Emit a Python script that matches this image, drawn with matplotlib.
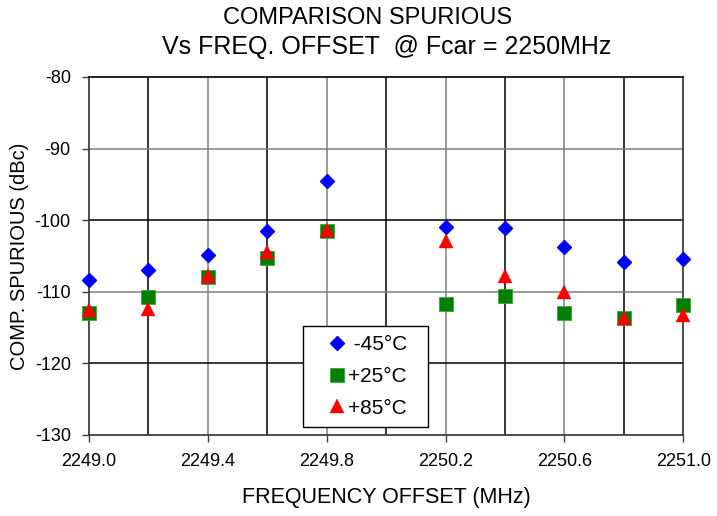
import matplotlib
matplotlib.use("Agg")
import matplotlib.pyplot as plt
import numpy as np

plt.rcParams['font.family'] = ['Liberation Sans', 'DejaVu Sans']
plt.rcParams['axes.unicode_minus'] = False

freq = [2249.0, 2249.2, 2249.4, 2249.6, 2249.8, 2250.2, 2250.4, 2250.6, 2250.8, 2251.0]
spur_m45 = [-108.4, -106.9, -104.9, -101.5, -94.6, -100.9, -101.1, -103.7, -105.8, -105.4]
spur_p25 = [-112.9, -110.8, -108.0, -105.3, -101.5, -111.7, -110.6, -112.9, -113.7, -111.8]
spur_p85 = [-112.6, -112.4, -107.8, -104.4, -101.4, -102.9, -107.8, -110.0, -113.6, -113.2]

x_labels = ['2249.0', '2249.4', '2249.8', '2250.2', '2250.6', '2251.0']

fig = plt.figure(figsize=(7.17, 5.16), dpi=100)
ax = fig.add_axes([0.124, 0.157, 0.829, 0.694])

# grid lines, drawn by hand so they can alternate shade like the original
for i, xv in enumerate(np.arange(2249.2, 2250.9, 0.2)):
    c = '#808080' if i % 2 == 1 else 'black'
    ax.axvline(xv, color=c, lw=1.1, zorder=1)
for i, yv in enumerate([-120, -110, -100, -90]):
    c = 'black' if i % 2 == 0 else '#808080'
    ax.axhline(yv, color=c, lw=1.1, zorder=1)

ax.plot(freq, spur_m45, 'D', color='blue', ms=7, mec='blue', label=' -45°C  ', zorder=3, clip_on=False)
ax.plot(freq, spur_p25, 's', color='green', ms=10, mec='#40a040', mew=0.6, label='+25°C  ', zorder=3, clip_on=False)
ax.plot(freq, spur_p85, '^', color='red', ms=10, mec='red', mew=0.3, label='+85°C  ', zorder=4, clip_on=False)

ax.set_xlim(2249.0, 2251.0)
ax.set_ylim(-130, -80)
ax.set_xticks([float(s) for s in x_labels])
ax.set_xticklabels(x_labels)
ax.set_yticks(np.arange(-130, -79, 10))
ax.tick_params(axis='both', direction='out', length=5, width=1, labelsize=13, color='#404040', pad=8)

ax.spines['top'].set_color('black')
ax.spines['left'].set_color('#303030')
ax.spines['bottom'].set_color('#303030')
ax.spines['right'].set_color('#303030')
for s in ax.spines.values():
    s.set_linewidth(1.2)

# two title lines, the first one sits a little left of centre in the original
fig.text(368 / 717, 1 - 18 / 516, "COMPARISON SPURIOUS", fontsize=17, ha='center', va='center')
fig.text(387 / 717, 1 - 47 / 516, "Vs FREQ. OFFSET  @ Fcar = 2250MHz", fontsize=18, ha='center', va='center')
ax.set_xlabel("FREQUENCY OFFSET (MHz)", fontsize=15.5, labelpad=12)
ax.set_ylabel("COMP. SPURIOUS (dBc)", fontsize=14.5, labelpad=4)

leg = ax.legend(loc='lower left', bbox_to_anchor=(0.361, 0.022), fontsize=15, frameon=True,
                fancybox=False, edgecolor='black', framealpha=1, handletextpad=-0.6,
                borderpad=0.45, labelspacing=0.62, handlelength=2.3, borderaxespad=0)
leg.get_frame().set_linewidth(1.0)
leg.set_zorder(5)

fig.savefig("out.png", dpi=100)
